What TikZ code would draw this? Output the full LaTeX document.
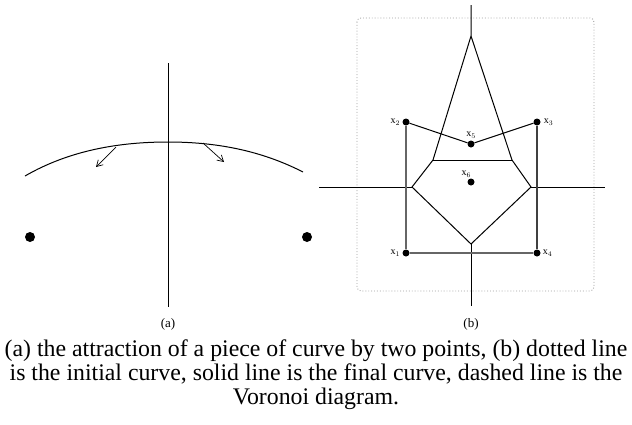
\documentclass[tikz,border=0pt]{standalone}
\usepackage{fontspec}
\setmainfont{Liberation Serif}
\usetikzlibrary{arrows.meta}
\begin{document}
\begin{tikzpicture}[x=1pt,y=-1pt,
  dot/.style={circle,fill=black,inner sep=0pt,minimum size=#1},
  dot/.default=7pt,
  lbl/.style={font=\fontsize{10}{11}\selectfont,inner sep=1pt},
  edge/.style={line width=1pt},
  vor/.style={line width=1pt},
  arr/.style={line width=0.7pt,-{Straight Barb[length=6pt,width=7pt]}}]
\useasboundingbox (0,0) rectangle (632,424);
% ---- panel (a)
\coordinate (at) at (168,63);
\coordinate (ab) at (168,307);
\draw[vor] (at) -- (ab);
\coordinate (cl) at (25,176);
\coordinate (cm) at (168,142);
\coordinate (cr) at (303,172);
\draw[edge] (cl) .. controls (70,150) and (120,142) .. (cm) .. controls (215,142) and (260,150) .. (cr);
\node[dot=10pt] (pl) at (30,237) {};
\node[dot=10pt] (pr) at (307,237) {};
\coordinate (la0) at (116,147);
\coordinate (la1) at (96,167);
\coordinate (ra0) at (203,143);
\coordinate (ra1) at (224,162);
\draw[arr] (la0) -- (la1);
\draw[arr] (ra0) -- (ra1);
\node[font=\fontsize{13}{15}\selectfont] (capa) at (168,324) {(a)};
% ---- panel (b)
\draw[gray!75,dotted,line width=0.9pt,rounded corners=4pt] (357,18) rectangle (594,291);
\coordinate (vt) at (471,5);
\coordinate (ap) at (471,36);
\coordinate (tl) at (433,160);
\coordinate (tr) at (512,160);
\coordinate (ml) at (412,187);
\coordinate (mr) at (531,187);
\coordinate (bm) at (471,244);
\coordinate (vb) at (471,306);
\coordinate (hl) at (319,187);
\coordinate (hr) at (605,187);
\draw[vor] (vt) -- (ap) -- (tl) -- (ml) -- (bm) -- (mr) -- (tr) -- (ap);
\draw[vor] (tl) -- (tr);
\draw[vor] (hl) -- (ml);
\draw[vor] (mr) -- (hr);
\draw[vor] (bm) -- (vb);
\node[dot] (x1) at (406,253) {};
\node[dot] (x2) at (406,122) {};
\node[dot] (x3) at (537,122) {};
\node[dot] (x4) at (537,253) {};
\node[dot] (x5) at (471,144) {};
\node[dot] (x6) at (471,182) {};
\draw[line width=1.2pt,black!60] (x2) -- (x1) -- (x4);
\draw[line width=1.1pt,black!75] (x4) -- (x3);
\draw[edge] (x2) -- (x5) -- (x3);
\node[lbl,anchor=east] (l1) at ([xshift=-1pt]x1.west) {x$_1$};
\node[lbl,anchor=east] (l2) at ([xshift=-1pt]x2.west) {x$_2$};
\node[lbl,anchor=west] (l3) at ([xshift=2pt]x3.east) {x$_3$};
\node[lbl,anchor=west] (l4) at ([xshift=1pt]x4.east) {x$_4$};
\node[lbl,anchor=south] (l5) at ([yshift=1pt]x5.north) {x$_5$};
\node[lbl,anchor=south east] (l6) at ([xshift=4pt,yshift=1pt]x6.north west) {x$_6$};
\node[font=\fontsize{13}{15}\selectfont] (capb) at (471,324) {(b)};
% ---- caption
\node[font=\fontsize{23.8}{24}\selectfont,align=center,inner sep=0pt] (cap) at (316,375)
 {(a) the attraction of a piece of curve by two points, (b) dotted line\\ is the initial curve, solid line is the final curve, dashed line is the\\ Voronoi diagram.};
\end{tikzpicture}
\end{document}
